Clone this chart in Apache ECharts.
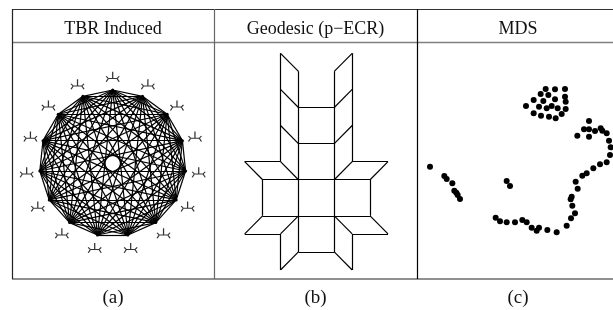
<!DOCTYPE html>
<html>
<head>
<meta charset="utf-8">
<script src="https://cdn.jsdelivr.net/npm/echarts@6/dist/echarts.min.js"></script>
<style>
  html, body { margin: 0; padding: 0; background: #fff; }
  #main { width: 613px; height: 310px; }
</style>
</head>
<body>
<div id="main"></div>
<script>
// panel titles and captions
var panelTitles = ['TBR Induced', 'Geodesic (p\u2212ECR)', 'MDS'];
var panelCaptions = ['(a)', '(b)', '(c)'];

// (a) 15 trees of the TBR graph, angle (deg) of each vertex on the ring
var tbrAngles = [0, 24, 48, 72, 96, 120, 144, 168, 192, 216, 240, 264, 288, 312, 336];
var tbrRadius = 1;
var treeRadius = 1.18;

// (b) geodesic edges [x1, y1, x2, y2]
var geoEdges = [
  [-0.5, 0.5, 0.5, 0.5], [-0.5, -0.5, 0.5, -0.5],
  [-1.5, 0.5, -0.5, 0.5], [-1.5, -0.5, -0.5, -0.5], [-1.5, 0.5, -1.5, -0.5],
  [0.5, 0.5, 1.5, 0.5], [0.5, -0.5, 1.5, -0.5], [1.5, 0.5, 1.5, -0.5],
  [-0.5, -1.5, -0.5, 3.5], [0.5, -1.5, 0.5, 3.5],
  [-0.5, 1.5, 0.5, 1.5], [-0.5, 2.5, 0.5, 2.5], [-0.5, -1.5, 0.5, -1.5],
  [-1, 1, -1, 4], [-1, 4, -0.5, 3.5], [-1, 3, -0.5, 2.5], [-1, 2, -0.5, 1.5], [-1, 1, -0.5, 0.5],
  [1, 1, 1, 4], [1, 4, 0.5, 3.5], [1, 3, 0.5, 2.5], [1, 2, 0.5, 1.5], [1, 1, 0.5, 0.5],
  [-2, 1, -1, 1], [-2, 1, -1.5, 0.5],
  [2, 1, 1, 1], [2, 1, 1.5, 0.5],
  [-2, -1, -1.5, -0.5], [-2, -1, -1, -1], [-1, -1, -0.5, -0.5],
  [2, -1, 1.5, -0.5], [2, -1, 1, -1], [1, -1, 0.5, -0.5],
  [-1, -1, -1, -2], [-1, -2, -0.5, -1.5],
  [1, -1, 1, -2], [1, -2, 0.5, -1.5]
];

// (c) MDS embedding
var mdsX = [
  392, 420, 450, 377, 400, 450, 356, 385, 420, 452, 333, 372, 395, 410, 428, 452, 356, 378, 402, 422, 440,
  522, 487, 507, 522, 540, 557, 562, 575, 522, 582, 587, 585, 575, 555, 535, 515, 502, 482, 488, 470, 467,
  472, 480, 468, 455, 425, 397, 372, 365, 350, 335, 322, 300, 275, 255, 242,
  275, 285,
  45, 88, 95, 112, 118, 124, 128, 135
];
var mdsY = [
  267, 268, 267, 282, 285, 290, 300, 303, 298, 305, 318, 320, 325, 318, 325, 327, 340, 347, 350, 355, 342,
  363, 407, 388, 388, 393, 385, 392, 400, 410, 422, 442, 465, 487, 493, 505, 520, 527, 545, 566, 590, 598,
  617, 640, 655, 677, 697, 690, 683, 692, 683, 667, 660, 667, 667, 664, 653,
  543, 558,
  500, 528, 537, 550, 572, 578, 585, 597
];

var treeGlyph = 'path://M6,0 L6,6 M2,6 L10,6 M2,6 L0,4 M2,6 L0,9 M10,6 L12,4 M10,6 L12,9';

var nodes = tbrAngles.map(function (a, i) {
  return { name: 't' + i, value: [tbrRadius, a] };
});
var links = [];
for (var i = 0; i < nodes.length; i++) {
  for (var j = i + 1; j < nodes.length; j++) {
    links.push({ source: i, target: j });
  }
}
var glyphs = tbrAngles.map(function (a) { return [treeRadius, a]; });
var geoData = geoEdges.map(function (e) {
  return { coords: [[e[0], e[1]], [e[2], e[3]]] };
});
var mdsData = mdsX.map(function (x, i) { return [x, mdsY[i]]; });

var serif = '"Liberation Serif", "DejaVu Serif", serif';
var titleX = [113, 315.5, 518];

var graphics = [
  { type: 'line', shape: { x1: 12, y1: 9.5, x2: 613, y2: 9.5 }, style: { stroke: '#333', lineWidth: 1.2 } },
  { type: 'line', shape: { x1: 12, y1: 42.5, x2: 613, y2: 42.5 }, style: { stroke: '#808080', lineWidth: 1.3 } },
  { type: 'line', shape: { x1: 12, y1: 279, x2: 613, y2: 279 }, style: { stroke: '#222', lineWidth: 1.2 } },
  { type: 'line', shape: { x1: 12.5, y1: 9, x2: 12.5, y2: 279 }, style: { stroke: '#222', lineWidth: 1.2 } },
  { type: 'line', shape: { x1: 214.5, y1: 9, x2: 214.5, y2: 279 }, style: { stroke: '#666', lineWidth: 1.2 } },
  { type: 'line', shape: { x1: 417.5, y1: 9, x2: 417.5, y2: 279 }, style: { stroke: '#000', lineWidth: 1.2 } }
];
panelTitles.forEach(function (t, k) {
  graphics.push({ type: 'text', x: titleX[k], y: 29,
    style: { text: t, font: '18px ' + serif, fill: '#111', align: 'center', verticalAlign: 'middle' } });
  graphics.push({ type: 'text', x: titleX[k], y: 298,
    style: { text: panelCaptions[k], font: '19px ' + serif, fill: '#111', align: 'center', verticalAlign: 'middle' } });
});

var option = {
  backgroundColor: '#fff',
  animation: false,
  polar: { center: [112.7, 163.3], radius: 73.3 * 1.25 },
  radiusAxis: { min: 0, max: 1.25, show: false },
  angleAxis: { type: 'value', min: 0, max: 360, startAngle: 90, clockwise: false, show: false },
  grid: [
    { left: 244.7, top: 53.3, width: 143.3, height: 216.7 },
    { left: 415, top: 0, width: 198, height: 290 }
  ],
  xAxis: [
    { gridIndex: 0, type: 'value', min: -2, max: 2, show: false },
    { gridIndex: 1, type: 'value', min: 0, max: 594, show: false }
  ],
  yAxis: [
    { gridIndex: 0, type: 'value', min: -2, max: 4, show: false },
    { gridIndex: 1, type: 'value', min: 0, max: 870, inverse: true, show: false }
  ],
  graphic: graphics,
  series: [
    {
      type: 'graph',
      coordinateSystem: 'polar',
      silent: true,
      symbol: 'circle',
      symbolSize: 3,
      itemStyle: { color: '#000' },
      lineStyle: { color: '#000', width: 1.2, opacity: 1 },
      data: nodes,
      links: links
    },
    {
      type: 'scatter',
      coordinateSystem: 'polar',
      silent: true,
      symbol: treeGlyph,
      symbolSize: [13, 10],
      itemStyle: { color: '#000', borderColor: '#000', borderWidth: 1.1 },
      data: glyphs
    },
    {
      type: 'lines',
      coordinateSystem: 'cartesian2d',
      xAxisIndex: 0,
      yAxisIndex: 0,
      silent: true,
      lineStyle: { color: '#000', width: 1.2, opacity: 1 },
      data: geoData
    },
    {
      type: 'scatter',
      xAxisIndex: 1,
      yAxisIndex: 1,
      silent: true,
      symbolSize: 6,
      itemStyle: { color: '#000', opacity: 1 },
      data: mdsData
    }
  ]
};

var myChart = echarts.init(document.getElementById('main'));
myChart.setOption(option);
</script>
</body>
</html>
